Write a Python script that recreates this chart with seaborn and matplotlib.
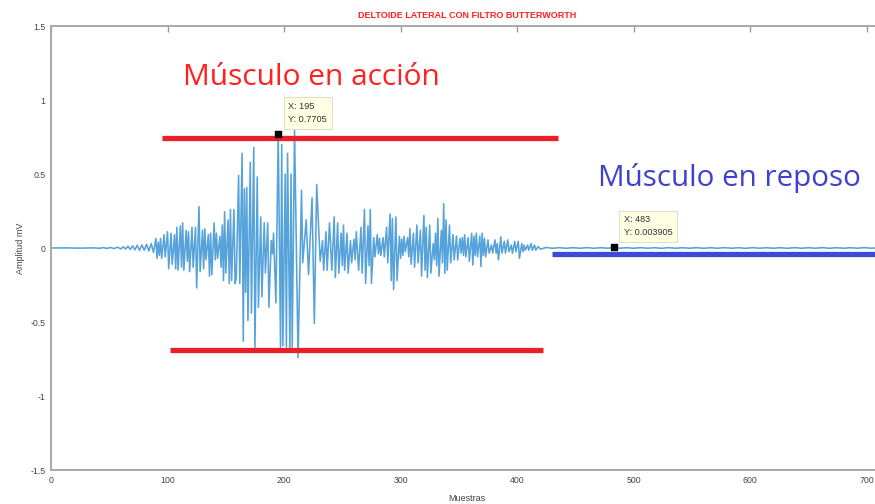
import matplotlib
matplotlib.use("Agg")
import matplotlib.pyplot as plt
import seaborn as sns
import pandas as pd

# --- Señal EMG filtrada (muestra, amplitud en mV) ---
muestras_inicio = [0, 12, 24, 36, 42, 45, 48, 51, 54, 57, 60, 62, 64, 66, 68,
                   70, 72, 74, 76, 78, 80, 82, 84, 86, 88]
amplitud_inicio = [0.0, 0.001, -0.001, 0.001, -0.002, 0.003, -0.003, 0.004,
                   -0.004, 0.005, -0.006, 0.008, -0.007, 0.012, -0.010, 0.015,
                   -0.012, 0.018, -0.016, 0.020, -0.015, 0.025, -0.020, 0.030,
                   -0.030]

muestras_accion = [
    90, 91, 92, 93, 94, 95, 97, 98, 100, 101, 103, 104, 106, 107, 108, 109,
    111, 112, 113, 114, 116, 117, 118, 119, 121, 122, 124, 125, 127, 128,
    130, 131, 132, 133, 135, 136, 137, 138, 140, 141, 142, 143, 145, 146,
    147, 148, 149, 150, 152, 153, 154, 155, 157, 158, 159, 161, 162, 164,
    165, 166, 167, 168, 169, 171, 172, 174, 175, 177, 178, 180, 181, 183,
    184, 186, 187, 189, 190, 191, 193, 195, 197, 198, 199, 201, 202, 203,
    205, 206, 207, 209, 212, 215, 216, 219, 221, 224, 226, 228, 231, 233,
    234, 236, 237, 239, 241, 243, 244, 246, 247, 249, 250, 251, 252, 254,
    255, 257, 258, 260, 261, 262, 264, 266, 267, 269, 270, 272, 273, 274,
    275, 277, 278, 280, 281, 282, 283, 285, 286, 288, 289, 291, 292, 293,
    294, 296, 297, 299, 300, 301, 302, 303, 304, 306, 307, 308, 309, 311,
    312, 314, 315, 317, 318, 320, 321, 322, 323, 325, 326, 328, 329, 330,
    331, 332, 333, 335, 336, 337, 338, 339, 340, 342, 343, 345, 346, 348,
    349, 351, 352, 353, 354, 355, 356, 358, 359, 361, 362, 363, 364, 365,
    366, 368, 369, 370, 371, 372, 373, 375, 376, 378, 379, 381, 382, 383,
    384, 386, 387, 389, 390, 392, 393, 395, 396, 398, 399, 401, 402, 404,
    405, 406, 407, 409, 410, 412, 413, 415, 416, 418, 420]
amplitud_accion = [
    0.065, -0.07, 0.04, -0.05, 0.065, -0.07, 0.09, -0.06, 0.11, -0.14, 0.10,
    -0.11, 0.09, -0.14, 0.14, -0.15, 0.15, -0.13, 0.17, -0.15, 0.12, -0.09,
    0.11, -0.16, 0.14, -0.13, 0.14, -0.27, 0.28, -0.16, 0.12, -0.14, 0.13,
    -0.08, 0.09, -0.19, 0.10, -0.18, 0.17, -0.08, 0.10, -0.07, 0.08, -0.13,
    0.155, -0.22, 0.245, -0.17, 0.19, -0.24, 0.26, -0.22, 0.26, -0.24, -0.20,
    0.49, -0.24, 0.64, -0.63, 0.40, -0.30, 0.41, -0.49, 0.58, -0.44, 0.68,
    -0.67, 0.48, -0.40, 0.21, -0.33, 0.17, -0.17, 0.17, -0.40, 0.05, -0.04,
    0.10, -0.37, 0.7705, -0.67, 0.70, -0.66, 0.50, -0.67, 0.64, -0.69, 0.50,
    -0.67, 0.80, -0.74, 0.39, -0.10, 0.19, -0.18, 0.34, -0.51, 0.43, -0.09,
    0.05, -0.15, 0.11, -0.15, 0.17, -0.15, 0.21, -0.20, 0.17, -0.17, 0.10,
    -0.12, 0.155, -0.15, 0.10, -0.17, 0.05, -0.10, 0.06, -0.08, 0.11, -0.15,
    0.14, -0.17, 0.26, -0.24, 0.15, -0.12, 0.26, -0.24, 0.07, -0.06, 0.09,
    -0.04, 0.065, -0.05, 0.07, -0.06, 0.14, -0.10, 0.23, -0.22, 0.20, -0.28,
    0.21, -0.22, 0.08, -0.07, 0.06, -0.05, 0.08, -0.025, 0.07, -0.06, 0.13,
    -0.11, 0.10, -0.13, 0.155, -0.10, 0.12, -0.19, 0.22, -0.15, 0.14, -0.20,
    0.155, -0.17, 0.03, -0.08, 0.10, -0.12, 0.20, -0.19, 0.12, -0.10, 0.30,
    -0.17, 0.19, -0.15, 0.155, -0.10, 0.09, -0.08, 0.08, -0.08, 0.065,
    -0.035, 0.07, -0.05, 0.09, -0.06, 0.07, -0.09, 0.10, -0.115, 0.08, -0.05,
    0.10, -0.06, 0.08, -0.125, 0.10, -0.05, 0.065, -0.06, 0.055, -0.035,
    0.02, -0.035, 0.055, -0.035, 0.03, -0.08, 0.075, -0.035, 0.045, -0.035,
    0.055, -0.025, 0.02, -0.035, 0.045, -0.025, 0.045, -0.07, 0.03, -0.025,
    0.02, -0.015, 0.02, -0.015, 0.03, -0.015, 0.02, -0.015, 0.01, -0.008]

muestras_reposo = [425, 430, 436, 442, 448, 454, 460, 466, 472, 478, 483, 488,
                   494, 500, 506, 512, 518, 524, 530, 536, 542, 548, 554, 560,
                   566, 572, 578, 584, 590, 596, 602, 608, 614, 620, 626, 632,
                   638, 644, 650, 656, 662, 668, 674, 680, 686, 692, 698, 704,
                   710]
amplitud_reposo = [0.004, -0.002, 0.002, -0.0015, 0.002, -0.0015, 0.0025,
                   -0.0015, 0.002, -0.0015, 0.003905, -0.0015, 0.002, -0.0015,
                   0.0025, -0.0015, 0.002, -0.002, 0.0025, -0.0015, 0.002,
                   -0.0015, 0.0025, -0.002, 0.002, -0.0015, 0.0025, -0.0015,
                   0.002, -0.002, 0.0025, -0.0015, 0.002, -0.0015, 0.002,
                   -0.002, 0.0025, -0.0015, 0.002, -0.0015, 0.0025, -0.002,
                   0.002, -0.0015, 0.002, -0.0015, 0.0025, -0.0015, 0.002]

# Puntos marcados con cursor de datos
cursor_x = [195, 483]
cursor_y = [0.7705, 0.003905]

# Umbrales dibujados sobre la señal: (x inicial, x final, nivel)
umbral_accion_sup = (95, 435, 0.745)
umbral_accion_inf = (102, 422, -0.69)
umbral_reposo = (430, 720, -0.04)

x_ticks = [0, 100, 200, 300, 400, 500, 600, 700]
y_ticks = [-1.5, -1, -0.5, 0, 0.5, 1, 1.5]
y_ticklabels = ["-1.5", "-1", "-0.5", "0", "0.5", "1", "1.5"]

senal = pd.DataFrame({
    "Muestras": muestras_inicio + muestras_accion + muestras_reposo,
    "Amplitud": amplitud_inicio + amplitud_accion + amplitud_reposo,
})

sns.set_style("white")
plt.rcParams["font.family"] = ["Liberation Sans", "DejaVu Sans"]

fig = plt.figure(figsize=(8.75, 5.04), dpi=100)
ax = fig.add_axes([51 / 875, 34 / 504, 832 / 875, 444 / 504])

sns.lineplot(data=senal, x="Muestras", y="Amplitud", ax=ax, estimator=None,
             sort=False, color="#56a3db", linewidth=1.15)

rojo = "#e8202a"
azul = "#3c4ad8"
for x0, x1, nivel in (umbral_accion_sup, umbral_accion_inf):
    ax.hlines(nivel, x0, x1, color=rojo, linewidth=3.8, zorder=4)
ax.hlines(umbral_reposo[2], umbral_reposo[0], umbral_reposo[1], color=azul,
          linewidth=3.8, zorder=4)

ax.text(113, 1.155, "Músculo en acción", color="#ff2020", fontsize=21.5,
        family=["Open Sans", "DejaVu Sans"], va="center", ha="left")
ax.text(469, 0.47, "Músculo en reposo", color="#4040d0", fontsize=21.3,
        family=["Open Sans", "DejaVu Sans"], va="center", ha="left")

# Cursores de datos
ax.scatter(cursor_x, cursor_y, marker="s", s=22, color="black", zorder=6)
for cx, cy in zip(cursor_x, cursor_y):
    ax.annotate(f"X: {cx}\nY: {cy:g}", xy=(cx, cy), xytext=(10, 10),
                textcoords="offset pixels", ha="left", va="bottom",
                fontsize=6.6, color="#333333", linespacing=1.6, zorder=7,
                bbox=dict(boxstyle="square,pad=0.5", facecolor="#ffffe4",
                          edgecolor="#e0e0c8", linewidth=0.8))

ax.set_xlim(0, 714)
ax.set_ylim(-1.5, 1.5)
ax.set_xticks(x_ticks)
ax.set_yticks(y_ticks)
ax.set_yticklabels(y_ticklabels)
ax.tick_params(direction="in", length=4, width=1, colors="#9a9a9a",
               labelcolor="#444444", labelsize=6.3, top=True, right=True,
               pad=4)
for sp in ax.spines.values():
    sp.set_color("#a8a8a8")
    sp.set_linewidth(1.4)

ax.set_xlabel("Muestras", fontsize=6.5, color="#444444", labelpad=7)
ax.set_ylabel("Amplitud mV", fontsize=6.5, color="#444444", labelpad=4)
ax.set_title("DELTOIDE LATERAL CON FILTRO BUTTERWORTH", color="#ff2020",
             fontsize=6.5, fontweight="bold", pad=6)

fig.savefig("out.png", dpi=100)
